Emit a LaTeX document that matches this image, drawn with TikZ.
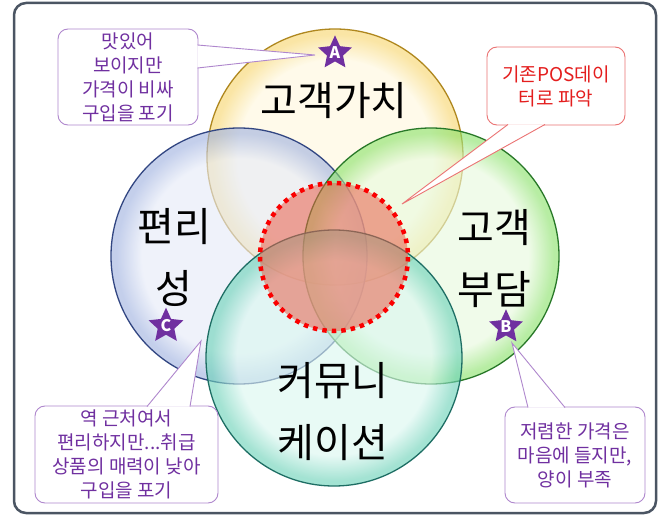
\documentclass[tikz,border=0pt]{standalone}
\usepackage{fontspec}
\setmainfont{Noto Sans CJK KR}
\usetikzlibrary{shapes.geometric, calc}

\definecolor{framegray}{RGB}{75,85,99}
\definecolor{starpurple}{RGB}{112,48,160}
\definecolor{notepurple}{RGB}{175,135,205}
\definecolor{notered}{RGB}{235,115,115}
\definecolor{textred}{RGB}{228,30,30}
\definecolor{dotred}{RGB}{250,0,0}
\definecolor{corered}{RGB}{232,96,76}
% circle colours
\definecolor{valuein}{RGB}{255,248,222}
\definecolor{valueout}{RGB}{248,214,110}
\definecolor{valueline}{RGB}{175,135,30}
\definecolor{convin}{RGB}{230,235,248}
\definecolor{convout}{RGB}{160,178,224}
\definecolor{convline}{RGB}{50,70,130}
\definecolor{costin}{RGB}{232,250,222}
\definecolor{costout}{RGB}{140,226,108}
\definecolor{costline}{RGB}{40,120,40}
\definecolor{commin}{RGB}{218,247,240}
\definecolor{commout}{RGB}{108,210,184}
\definecolor{commline}{RGB}{30,110,100}

\pgfdeclareradialshading{valueshade}{\pgfpointorigin}{color(0bp)=(valuein); color(19bp)=(valuein); color(24bp)=(valueout); color(25bp)=(valueout); color(50bp)=(valueout)}
\pgfdeclareradialshading{convshade}{\pgfpointorigin}{color(0bp)=(convin); color(19bp)=(convin); color(24bp)=(convout); color(25bp)=(convout); color(50bp)=(convout)}
\pgfdeclareradialshading{costshade}{\pgfpointorigin}{color(0bp)=(costin); color(19bp)=(costin); color(24bp)=(costout); color(25bp)=(costout); color(50bp)=(costout)}
\pgfdeclareradialshading{commshade}{\pgfpointorigin}{color(0bp)=(commin); color(19bp)=(commin); color(24bp)=(commout); color(25bp)=(commout); color(50bp)=(commout)}

\begin{document}
\begin{tikzpicture}[x=1pt, y=-1pt,
    venn/.style={circle, draw=#1line, line width=1.3pt, shading=#1shade, fill opacity=0.62, minimum size=256pt, inner sep=0pt},
    bigtext/.style={font=\fontsize{40}{62}\selectfont, align=center, inner sep=0pt},
    note/.style={draw=#1, fill=white, rounded corners=10pt, line width=0.9pt, inner sep=0pt, align=center, font=\fontsize{19}{24}\selectfont},
    pointer/.style={draw=#1, fill=white, line width=0.9pt, line join=miter},
    starnode/.style={star, star points=5, star point ratio=2.1, fill=starpurple, minimum size=30pt, inner sep=0pt, text=white, font=\bfseries\fontsize{16}{16}\selectfont}
]
    \useasboundingbox (0,0) rectangle (670,516);
    \draw[draw=framegray, line width=2.5pt, rounded corners=12pt, fill=white] (14,3) rectangle (656,513);

    % the four circles
    \node[venn=value] (value) at (335,157) {};
    \node[venn=conv]  (conv)  at (239,256) {};
    \node[venn=cost]  (cost)  at (431,256) {};
    \node[venn=comm]  (comm)  at (334,358) {};

    % common part
    \node[circle, minimum size=148pt, inner sep=0pt, fill=corered, fill opacity=0.55] (core) at (334,257) {};
    \draw[dotred, line width=4.5pt, dash pattern=on 4.5pt off 5pt] (core.center) circle (74);

    \node[bigtext] (valuetext) at (334,101) {고객가치};
    \node[bigtext] (convtext)  at (174,257) {편리\\성};
    \node[bigtext] (costtext)  at (494,259) {고객\\부담};
    \node[bigtext] (commtext)  at (333,412) {커뮤니\\케이션};

    \node[starnode] (starA) at (335,53)  {A};
    \node[starnode] (starB) at (506,327) {B};
    \node[starnode] (starC) at (166,326) {C};

    % callouts
    \node[note=notepurple, text=starpurple, minimum width=140pt, minimum height=96pt] (noteA) at (128,77)
        {맛있어\\보이지만\\가격이 비싸\\구입을 포기};
    \node[note=notered, text=textred, minimum width=138pt, minimum height=78pt] (notePOS) at (556,86)
        {기존POS데이\\터로 파악};
    \node[note=notepurple, text=starpurple, minimum width=183pt, minimum height=97pt] (noteC) at (126.5,454.5)
        {역 근처여서\\편리하지만...취급\\상품의 매력이 낮아\\구입을 포기};
    \node[note=notepurple, text=starpurple, minimum width=140pt, minimum height=96pt] (noteB) at (575,455)
        {저렴한 가격은\\마음에 들지만,\\양이 부족};

    \coordinate (tipA)   at (315,55);
    \coordinate (tipPOS) at (402,204);
    \coordinate (tipC)   at (201,341);
    \coordinate (tipB)   at (512,343);

    \filldraw[pointer=notepurple] ($(noteA.east)+(-1,-32)$) -- (tipA) -- ($(noteA.east)+(-1,-9)$);
    \filldraw[pointer=notered] ($(notePOS.south)+(-48,-1)$) -- (tipPOS) -- ($(notePOS.south)+(-11,-1)$);
    \filldraw[pointer=notepurple] ($(noteC.north)+(20.5,1)$) -- (tipC) -- ($(noteC.north)+(63.5,1)$);
    \filldraw[pointer=notepurple] ($(noteB.north)+(-47,1)$) -- (tipB) -- ($(noteB.north)+(-10,1)$);
\end{tikzpicture}
\end{document}
